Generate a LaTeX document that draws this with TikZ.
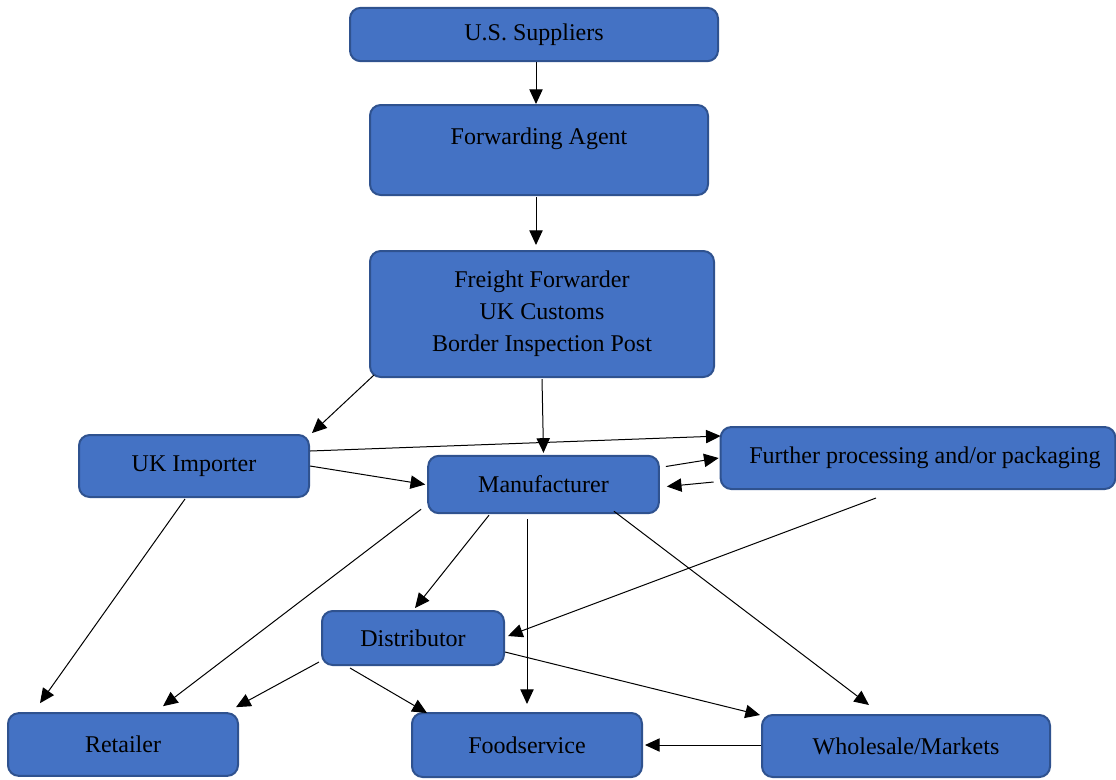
\documentclass[tikz,border=0pt]{standalone}
\usepackage{fontspec}
\setmainfont{Liberation Serif}
\usetikzlibrary{arrows.meta,calc}
\definecolor{boxfill}{HTML}{4472C4}
\definecolor{boxline}{HTML}{2F528F}
\begin{document}
\begin{tikzpicture}[x=0.75pt,y=-0.75pt,
    chainbox/.style={draw=boxline,fill=boxfill,line width=1.5pt,rounded corners=8pt,
      inner sep=0pt,align=center,font=\fontsize{18}{24}\selectfont},
    flow/.style={-{Triangle[length=11pt,width=10pt]},line width=0.75pt}]
  \useasboundingbox (0,0) rectangle (1116,779);
  % import chain
  \node[chainbox,minimum width=276pt,minimum height=40pt] (sup) at (534,34.5) {U.S. Suppliers};
  \node[chainbox,minimum width=253.5pt,minimum height=67.5pt] (fwd) at (539,150) {\smash{\raisebox{4pt}{Forwarding Agent}}};
  \node[chainbox,minimum width=258pt,minimum height=94.5pt] (ff) at (542,314) {\raisebox{-2pt}{Freight Forwarder}\\\raisebox{-2pt}{UK Customs}\\\raisebox{-2pt}{Border Inspection Post}};
  % middle row
  \node[chainbox,minimum width=172.5pt,minimum height=46.5pt] (imp) at (194,466) {UK Importer};
  \node[chainbox,minimum width=173pt,minimum height=43pt] (mfr) at (543.5,484.5) {Manufacturer};
  \node[chainbox,minimum width=296pt,minimum height=46.5pt] (proc) at (918,458) {\hspace*{10.5pt}Further processing and/or packaging};
  \node[chainbox,minimum width=136.5pt,minimum height=40.5pt] (dist) at (413,638) {Distributor};
  % outlets
  \node[chainbox,minimum width=172.5pt,minimum height=47pt] (ret) at (123,744.5) {Retailer};
  \node[chainbox,minimum width=172.5pt,minimum height=48pt] (food) at (527,745) {Foodservice};
  \node[chainbox,minimum width=216pt,minimum height=46.5pt] (whs) at (906,746) {Wholesale/Markets};
  % arrows down the chain
  \draw[flow] ($(sup.south)+(2,0)$) -- ($(fwd.north)+(-3,0)$);
  \draw[flow] ($(fwd.south)+(-3,1)$) -- ($(ff.north)+(-6,-5)$);
  \draw[flow] ($(ff.south west)+(5,-3)$) -- ($(imp.north east)+(2,-1)$);
  \draw[flow] ($(ff.south)+(0,1)$) -- ($(mfr.north)+(0,-2)$);
  % importer and manufacturer
  \draw[flow] ($(imp.east)+(0,-15)$) -- ($(proc.west)+(1,-22)$);
  \draw[flow] (imp.east) -- ($(mfr.west)+(-2,0)$);
  \draw[flow] ($(mfr.east)+(6,-18)$) -- ($(proc.west)+(-1,0)$);
  \draw[flow] ($(proc.west)+(-6,24)$) -- ($(mfr.east)+(7,2)$);
  \draw[flow] ($(imp.south)+(-9,1)$) -- ($(ret.north)+(-83,-9)$);
  \draw[flow] ($(mfr.south west)+(-6,-5)$) -- ($(ret.north)+(40,-6)$);
  \draw[flow] ($(mfr.south)+(-54.5,1)$) -- ($(dist.north)+(2,-2)$);
  \draw[flow] ($(mfr.south)+(-16.5,5)$) -- ($(food.north)+(0,-8)$);
  \draw[flow] ($(mfr.south east)+(-46,-3)$) -- ($(whs.north)+(-37,-9)$);
  \draw[flow] ($(proc.south)+(-42,8)$) -- ($(dist.east)+(3,-2)$);
  % distributor to outlets
  \draw[flow] ($(dist.south west)+(-2,-4)$) -- ($(ret.north east)+(-3,-5)$);
  \draw[flow] ($(dist.south)+(-63,2)$) -- ($(food.north west)+(16,1)$);
  \draw[flow] ($(dist.east)+(0,14)$) -- ($(whs.north west)+(-1,1)$);
  \draw[flow] ($(whs.west)+(0,-1)$) -- ($(food.east)+(2,0)$);
\end{tikzpicture}
\end{document}
